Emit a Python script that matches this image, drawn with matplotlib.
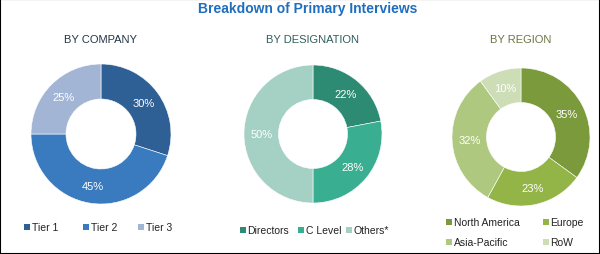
import matplotlib
matplotlib.use("Agg")
import matplotlib.pyplot as plt
from matplotlib.patches import Rectangle

plt.rcParams['font.family'] = ['Liberation Sans', 'DejaVu Sans']

# data
company_labels = ["Tier 1", "Tier 2", "Tier 3"]
company_values = [30, 45, 25]
company_colors = ["#2E6096", "#3A7BC0", "#A3B5D5"]

designation_labels = ["Directors", "C Level", "Others*"]
designation_values = [22, 28, 50]
designation_colors = ["#2E8B73", "#3AAE91", "#A5D0C4"]

region_labels = ["North America", "Europe", "Asia-Pacific", "RoW"]
region_values = [35, 23, 32, 10]
region_colors = ["#7A9A3C", "#93B446", "#AEC97F", "#CDDDB6"]

W, H = 600, 255
fig = plt.figure(figsize=(W / 100, H / 100), dpi=100)
fig.patches.append(Rectangle((0, 0), 1, 1, transform=fig.transFigure,
                             fill=False, edgecolor="black", linewidth=1.5))

fig.text(308 / W, 1 - 9 / H, "Breakdown of Primary Interviews", ha="center", va="center",
         fontsize=10, fontweight="bold", color="#1F6EBF")


def legend_item(x, y, color, label):
    # x, y in pixels from top-left
    s = 5.5
    fig.patches.append(Rectangle(((x - s / 2) / W, 1 - (y + s / 2) / H), s / W, s / H,
                                 transform=fig.transFigure, facecolor=color, edgecolor="none"))
    fig.text((x + 4.5) / W, 1 - y / H, label, ha="left", va="center", fontsize=7.5, color="#222222")


def donut(cx, cy, r, values, colors, labels, title, title_color, leg_pos):
    ax = fig.add_axes([(cx - r) / W, (H - cy - r) / H, 2 * r / W, 2 * r / H])
    ax.pie(values, colors=colors, startangle=90, counterclock=False,
           wedgeprops=dict(width=0.5, edgecolor="white", linewidth=0.4),
           autopct="%d%%", pctdistance=0.75,
           textprops=dict(color="white", fontsize=8))
    ax.set_xlim(-1, 1)
    ax.set_ylim(-1, 1)
    ax.set_aspect("equal")
    ax.axis("off")
    fig.text(cx / W, 1 - 40 / H, title, ha="center", va="center", fontsize=8, color=title_color)
    for (x, y), c, l in zip(leg_pos, colors, labels):
        legend_item(x, y, c, l)


donut(101, 135, 70, company_values, company_colors, company_labels,
      "BY COMPANY", "#243447", [(27, 228), (86, 228), (141, 228)])
donut(313, 135, 69, designation_values, designation_colors, designation_labels,
      "BY DESIGNATION", "#2F5F5A", [(243, 231), (301, 231), (349, 231)])
donut(521, 138, 69, region_values, region_colors, region_labels,
      "BY REGION", "#6E7440", [(449, 223), (546, 223), (449, 243), (546, 243)])

fig.savefig("out.png", dpi=100)
